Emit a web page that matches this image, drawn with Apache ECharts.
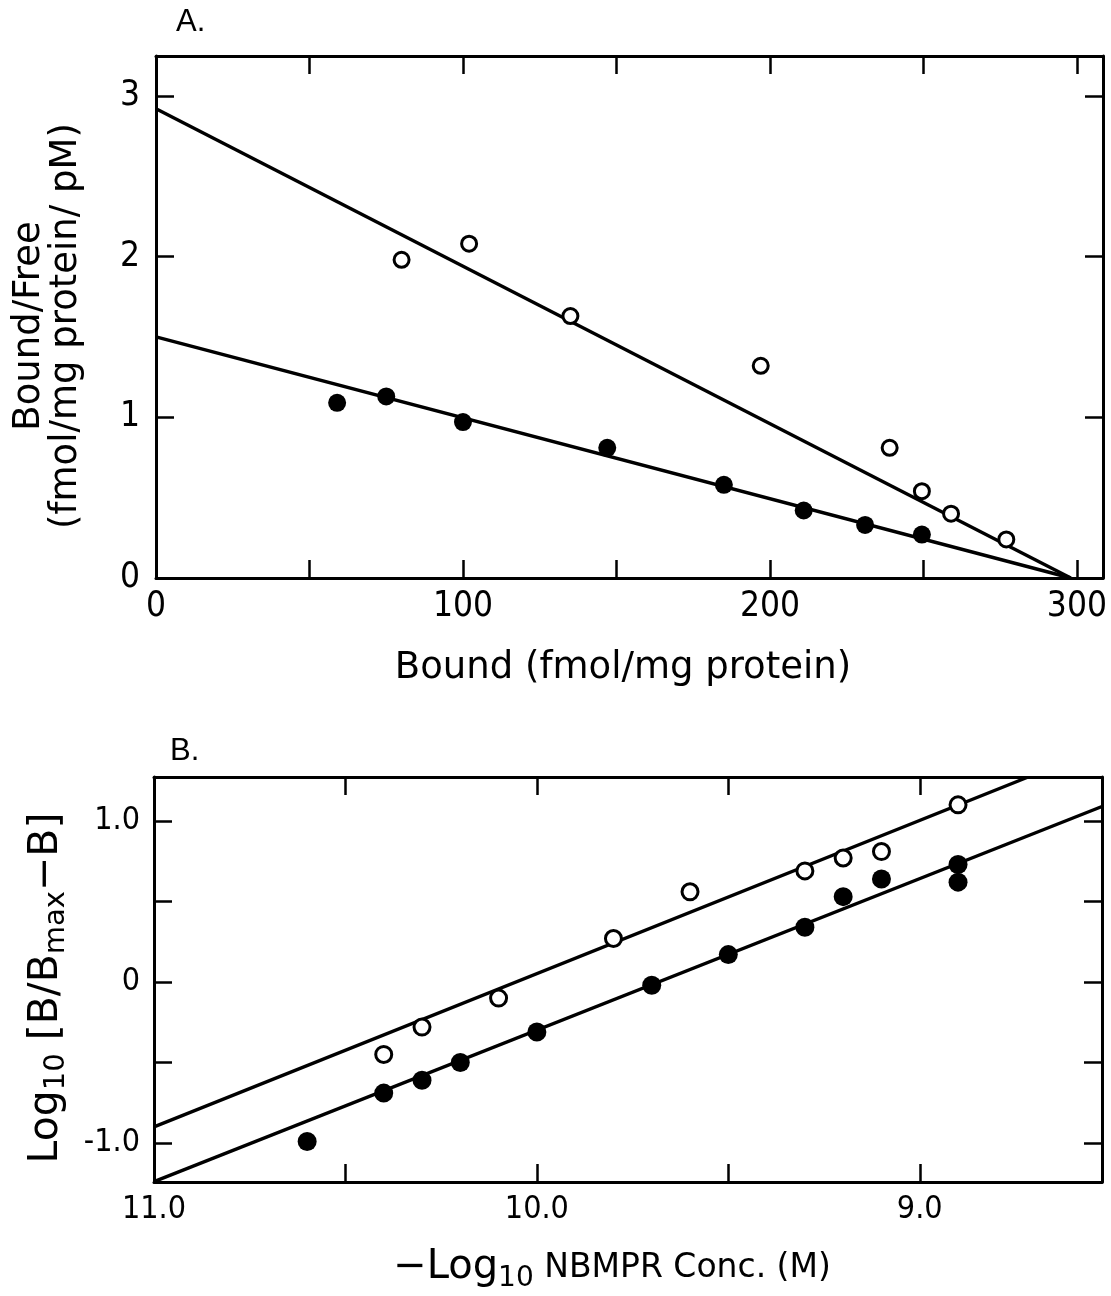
<!DOCTYPE html>
<html>
<head>
<meta charset="utf-8">
<script src="https://cdn.jsdelivr.net/npm/echarts@6/dist/echarts.min.js"></script>
<style>
html,body{margin:0;padding:0;background:#fff;}
#chart{width:1111px;height:1296px;}
</style>
</head>
<body>
<div id="chart"></div>
<script>
// ---------- Panel A (Scatchard plot) ----------
const aOpenX   = [80, 102, 135, 197, 239, 249.5, 259, 277];
const aOpenY   = [1.98, 2.08, 1.63, 1.32, 0.81, 0.54, 0.40, 0.24];
const aFilledX = [59, 75, 100, 147, 185, 211, 231, 249.5];
const aFilledY = [1.09, 1.13, 0.97, 0.81, 0.58, 0.42, 0.33, 0.27];
const aUpperLineX = [0, 298];
const aUpperLineY = [2.92, 0];
const aLowerLineX = [0, 298];
const aLowerLineY = [1.50, 0];
const aXTicks  = [0, 50, 100, 150, 200, 250, 300];
const aXLabels = [0, 100, 200, 300];
const aYTicks  = [0, 1, 2, 3];

// ---------- Panel B (Hill plot) ----------
const bOpenX   = [10.40, 10.30, 10.10, 9.80, 9.60, 9.30, 9.20, 9.10, 8.90];
const bOpenY   = [-0.45, -0.28, -0.10, 0.27, 0.56, 0.69, 0.77, 0.81, 1.10];
const bFilledX = [10.60, 10.40, 10.30, 10.20, 10.00, 9.70, 9.50, 9.30, 9.20, 9.10, 8.90, 8.90];
const bFilledY = [-0.99, -0.69, -0.61, -0.50, -0.31, -0.02, 0.17, 0.34, 0.53, 0.64, 0.73, 0.62];
const bUpperLineX = [11.0, 8.72];
const bUpperLineY = [-0.90, 1.27];
const bLowerLineX = [11.0, 8.524];
const bLowerLineY = [-1.24, 1.09];
const bXTicks  = [9.0, 9.5, 10.0, 10.5, 11.0];
const bXLabels = [9.0, 10.0, 11.0];
const bYTicks  = [-1.0, -0.5, 0, 0.5, 1.0];
const bYLabels = [-1.0, 0, 1.0];

const zip = (xs, ys) => xs.map((x, i) => [x, ys[i]]);

const TICK_FONT = '"Liberation Sans Narrow", "DejaVu Sans Condensed", "Liberation Sans", sans-serif';
const TITLE_FONT = '"DejaVu Sans", sans-serif';

function axisCommon(opts) {
  return Object.assign({
    type: 'value',
    axisLine: { show: true, onZero: false, lineStyle: { color: '#000', width: 3 } },
    splitLine: { show: false },
  }, opts);
}
function ticks(values, len) {
  return { show: true, inside: true, length: len, customValues: values, lineStyle: { color: '#000', width: 2.5 } };
}
function labels(values, fmt, size, margin) {
  return { show: true, customValues: values, formatter: fmt, color: '#000',
           fontFamily: TICK_FONT, fontSize: size, margin: margin };
}
const noLabel = { show: false };

const openSym = (r) => ({ symbol: 'circle', symbolSize: r,
  itemStyle: { color: '#fff', borderColor: '#000', borderWidth: 3, opacity: 1 } });
const fillSym = (r) => ({ symbol: 'circle', symbolSize: r,
  itemStyle: { color: '#000', borderColor: '#000', borderWidth: 0, opacity: 1 } });
const lineStyle = { color: '#000', width: 3.4 };

const fmtInt = v => String(Math.round(v));
const fmt1 = v => (v === 0 ? '0' : v.toFixed(1));

const option = {
  animation: false,
  backgroundColor: '#fff',
  grid: [
    { left: 156, right: 8, top: 56, bottom: 718, containLabel: false },
    { left: 154, right: 9, top: 777, bottom: 114, containLabel: false }
  ],
  xAxis: [
    axisCommon({ gridIndex: 0, position: 'bottom', min: 0, max: 308.5,
      axisTick: ticks(aXTicks, 18), axisLabel: labels(aXLabels, fmtInt, 35, 11) }),
    axisCommon({ gridIndex: 0, position: 'top', min: 0, max: 308.5,
      axisTick: ticks(aXTicks, 18), axisLabel: noLabel }),
    axisCommon({ gridIndex: 1, position: 'bottom', min: 8.524, max: 11.0, inverse: true,
      axisTick: ticks(bXTicks, 18), axisLabel: labels(bXLabels, fmt1, 32, 12) }),
    axisCommon({ gridIndex: 1, position: 'top', min: 8.524, max: 11.0, inverse: true,
      axisTick: ticks(bXTicks, 18), axisLabel: noLabel })
  ],
  yAxis: [
    axisCommon({ gridIndex: 0, position: 'left', min: 0, max: 3.248,
      axisTick: ticks(aYTicks, 18), axisLabel: labels(aYTicks, fmtInt, 35, 16) }),
    axisCommon({ gridIndex: 0, position: 'right', min: 0, max: 3.248,
      axisTick: ticks(aYTicks, 18), axisLabel: noLabel }),
    axisCommon({ gridIndex: 1, position: 'left', min: -1.242, max: 1.273,
      axisTick: ticks(bYTicks, 18), axisLabel: labels(bYLabels, fmt1, 32, 14) }),
    axisCommon({ gridIndex: 1, position: 'right', min: -1.242, max: 1.273,
      axisTick: ticks(bYTicks, 18), axisLabel: noLabel })
  ],
  series: [
    { type: 'line', xAxisIndex: 0, yAxisIndex: 0, data: zip(aUpperLineX, aUpperLineY),
      showSymbol: false, symbol: 'none', lineStyle: lineStyle, z: 2 },
    { type: 'line', xAxisIndex: 0, yAxisIndex: 0, data: zip(aLowerLineX, aLowerLineY),
      showSymbol: false, symbol: 'none', lineStyle: lineStyle, z: 2 },
    Object.assign({ type: 'scatter', xAxisIndex: 0, yAxisIndex: 0, data: zip(aOpenX, aOpenY), z: 5 }, openSym(15)),
    Object.assign({ type: 'scatter', xAxisIndex: 0, yAxisIndex: 0, data: zip(aFilledX, aFilledY), z: 5 }, fillSym(18)),

    { type: 'line', xAxisIndex: 2, yAxisIndex: 2, data: zip(bUpperLineX, bUpperLineY),
      showSymbol: false, symbol: 'none', lineStyle: lineStyle, z: 2 },
    { type: 'line', xAxisIndex: 2, yAxisIndex: 2, data: zip(bLowerLineX, bLowerLineY),
      showSymbol: false, symbol: 'none', lineStyle: lineStyle, z: 2 },
    Object.assign({ type: 'scatter', xAxisIndex: 2, yAxisIndex: 2, data: zip(bOpenX, bOpenY), z: 5 }, openSym(16)),
    Object.assign({ type: 'scatter', xAxisIndex: 2, yAxisIndex: 2, data: zip(bFilledX, bFilledY), z: 5 }, fillSym(19))
  ],
  graphic: [
    { type: 'text', x: 176, y: 38, style: { text: 'A.', fontSize: 31, fontFamily: '"Liberation Sans", sans-serif',
        fill: '#000', textAlign: 'left', textVerticalAlign: 'bottom' } },
    { type: 'text', x: 170, y: 767, style: { text: 'B.', fontSize: 31, fontFamily: '"Liberation Sans", sans-serif',
        fill: '#000', textAlign: 'left', textVerticalAlign: 'bottom' } },
    // Panel A axis titles
    { type: 'text', x: 623, y: 668, style: { text: 'Bound (fmol/mg protein)',
        font: '37px ' + TITLE_FONT, fill: '#000', textAlign: 'center', textVerticalAlign: 'middle' } },
    { type: 'text', x: 48, y: 326, rotation: Math.PI / 2, style: {
        text: 'Bound/Free\n(fmol/mg protein/ pM)', font: '37px ' + TITLE_FONT, lineHeight: 37,
        fill: '#000', textAlign: 'center', textVerticalAlign: 'middle' } },
    // Panel B axis titles
    { type: 'text', x: 612, y: 1268, style: {
        text: '{m|−Log}{s|10}{n| NBMPR Conc. (M)}',
        fill: '#000', textAlign: 'center', textVerticalAlign: 'middle',
        rich: {
          m: { fontFamily: TITLE_FONT, fontSize: 40, lineHeight: 50, verticalAlign: 'middle', fill: '#000' },
          s: { fontFamily: TITLE_FONT, fontSize: 28, lineHeight: 22, verticalAlign: 'bottom', fill: '#000' },
          n: { fontFamily: TITLE_FONT, fontSize: 33, lineHeight: 50, verticalAlign: 'middle', fill: '#000' }
        } } },
    { type: 'text', x: 46, y: 988, rotation: Math.PI / 2, style: {
        text: '{m|Log}{s|10}{m| [B/B}{s|max}{m|−B]}',
        fill: '#000', textAlign: 'center', textVerticalAlign: 'middle',
        rich: {
          m: { fontFamily: TITLE_FONT, fontSize: 41, lineHeight: 50, verticalAlign: 'middle', fill: '#000' },
          s: { fontFamily: TITLE_FONT, fontSize: 29, lineHeight: 22, verticalAlign: 'bottom', fill: '#000' }
        } } }
  ]
};

const chart = echarts.init(document.getElementById('chart'), null, { renderer: 'canvas' });
chart.setOption(option);
</script>
</body>
</html>
